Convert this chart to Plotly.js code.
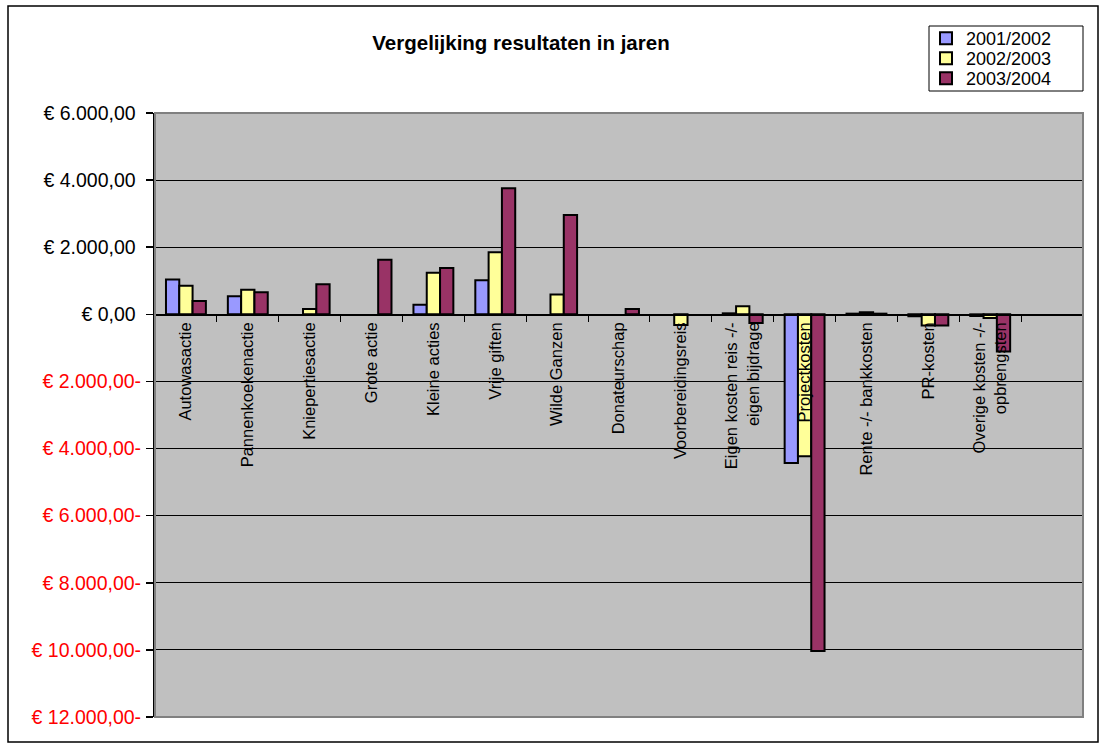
<!DOCTYPE html>
<html>
<head>
<meta charset="utf-8">
<script src="https://cdn.plot.ly/plotly-3.0.1.min.js"></script>
<style>html,body{margin:0;padding:0;background:#fff;}#chart{width:1106px;height:748px;}</style>
</head>
<body>
<div id="chart"></div>
<script>
const categories = ["Autowasactie","Pannenkoekenactie","Kniepertiesactie","Grote actie","Kleine acties","Vrije giften","Wilde Ganzen","Donateurschap","Voorbereidingsreis","Eigen kosten reis -/-<br>eigen bijdrage","Projectkosten","Rente -/- bankkosten","PR-kosten","Overige kosten -/-<br>opbrengsten"];
const seriesNames = ["2001/2002","2002/2003","2003/2004"];
const values2001 = [1035, 536, null, null, 289, 1013, null, null, null, 30, -4430, 20, -60, -50];
const values2002 = [855, 735, 159, null, 1242, 1848, 590, null, -320, 240, -4230, 60, -330, -110];
const values2003 = [397, 656, 894, 1630, 1380, 3755, 2960, 160, null, -260, -10030, 20, -330, -1110];
const yTickVals = [6000, 4000, 2000, 0, -2000, -4000, -6000, -8000, -10000, -12000];
const yTickLabels = ["€ 6.000,00","€ 4.000,00","€ 2.000,00","€ 0,00","€ 2.000,00-","€ 4.000,00-","€ 6.000,00-","€ 8.000,00-","€ 10.000,00-","€ 12.000,00-"];

const colors = ["#9999FF","#FFFF99","#993366"];
const allValues = [values2001, values2002, values2003];
const legendIds = ["legend","legend2","legend3"];
const font = "Liberation Sans, Arial, sans-serif";

const traces = allValues.map((vals, i) => ({
  type: "bar",
  name: seriesNames[i],
  x: categories,
  y: vals,
  legend: legendIds[i],
  marker: {color: colors[i], line: {color: "#000", width: 2}},
  hoverinfo: "skip"
}));

const yMin = -12000, yMax = 6000;
const tickText = yTickLabels.map((t, i) => yTickVals[i] < 0
  ? '<span style="color:#FF0000">' + t + '</span>'
  : t + '\u00a0');

// plot area pixel box
const L = 155, R = 1083, T = 113, B = 717, W = 1106, H = 748;
const pw = R - L, ph = B - T;
const px = v => (v - L) / pw;
const py = v => (B - v) / ph;

const rowCenters = [38.5, 58.5, 78.5];
const legendDefs = {};
legendIds.forEach((id, i) => {
  legendDefs[id] = {
    x: px(926), y: py(rowCenters[i]), xanchor: "left", yanchor: "middle",
    bgcolor: "rgba(0,0,0,0)", borderwidth: 0,
    font: {family: font, size: 18, color: "#000"},
    itemclick: false, itemwidth: 30
  };
});

const layout = Object.assign({
  width: W, height: H,
  margin: {l: L, r: W - R, t: T, b: H - B, pad: 0},
  paper_bgcolor: "#FFFFFF",
  plot_bgcolor: "#C0C0C0",
  font: {family: font, color: "#000"},
  barmode: "group",
  bargap: 0.355,
  bargroupgap: 0,
  showlegend: true,
  title: {
    text: "Vergelijking resultaten in jaren",
    font: {family: font, size: 20.5, weight: "bold", color: "#000"},
    xref: "paper", x: px(521), xanchor: "center",
    yref: "container", y: 1 - 43 / H, yanchor: "middle"
  },
  xaxis: {
    type: "category",
    range: [-0.5, categories.length + 0.5],
    anchor: "free",
    position: (0 - yMin) / (yMax - yMin),
    showline: true, linecolor: "#000", linewidth: 1.5,
    ticks: "outside", ticklen: 6, tickcolor: "#000", tickwidth: 1,
    tickson: "boundaries",
    tickangle: -90,
    tickfont: {family: font, size: 16.5, color: "#000"},
    showgrid: false, zeroline: false,
    fixedrange: true
  },
  yaxis: {
    range: [yMin, yMax],
    tickvals: yTickVals, ticktext: tickText,
    tickfont: {family: font, size: 19.5, color: "#000"},
    ticks: "outside", ticklen: 7, tickcolor: "#000", tickwidth: 1.5,
    ticklabelstandoff: 1,
    showgrid: true, gridcolor: "#000", gridwidth: 1,
    showline: true, linecolor: "#000", linewidth: 2,
    zeroline: false, fixedrange: true
  },
  shapes: [
    {type: "rect", xref: "paper", yref: "paper", x0: 0, x1: 1, y0: 0, y1: 1,
     line: {color: "#808080", width: 2}, layer: "above"},
    {type: "rect", xref: "paper", yref: "paper", x0: px(8), x1: px(1098), y0: py(742), y1: py(6),
     line: {color: "#000", width: 1.5}, layer: "above"},
    {type: "rect", xref: "paper", yref: "paper", x0: px(929), x1: px(1083), y0: py(91), y1: py(26),
     fillcolor: "#FFFFFF", line: {color: "#000", width: 1}, layer: "above"}
  ]
}, legendDefs);

Plotly.newPlot("chart", traces, layout, {displayModeBar: false, staticPlot: true});
</script>
</body>
</html>
